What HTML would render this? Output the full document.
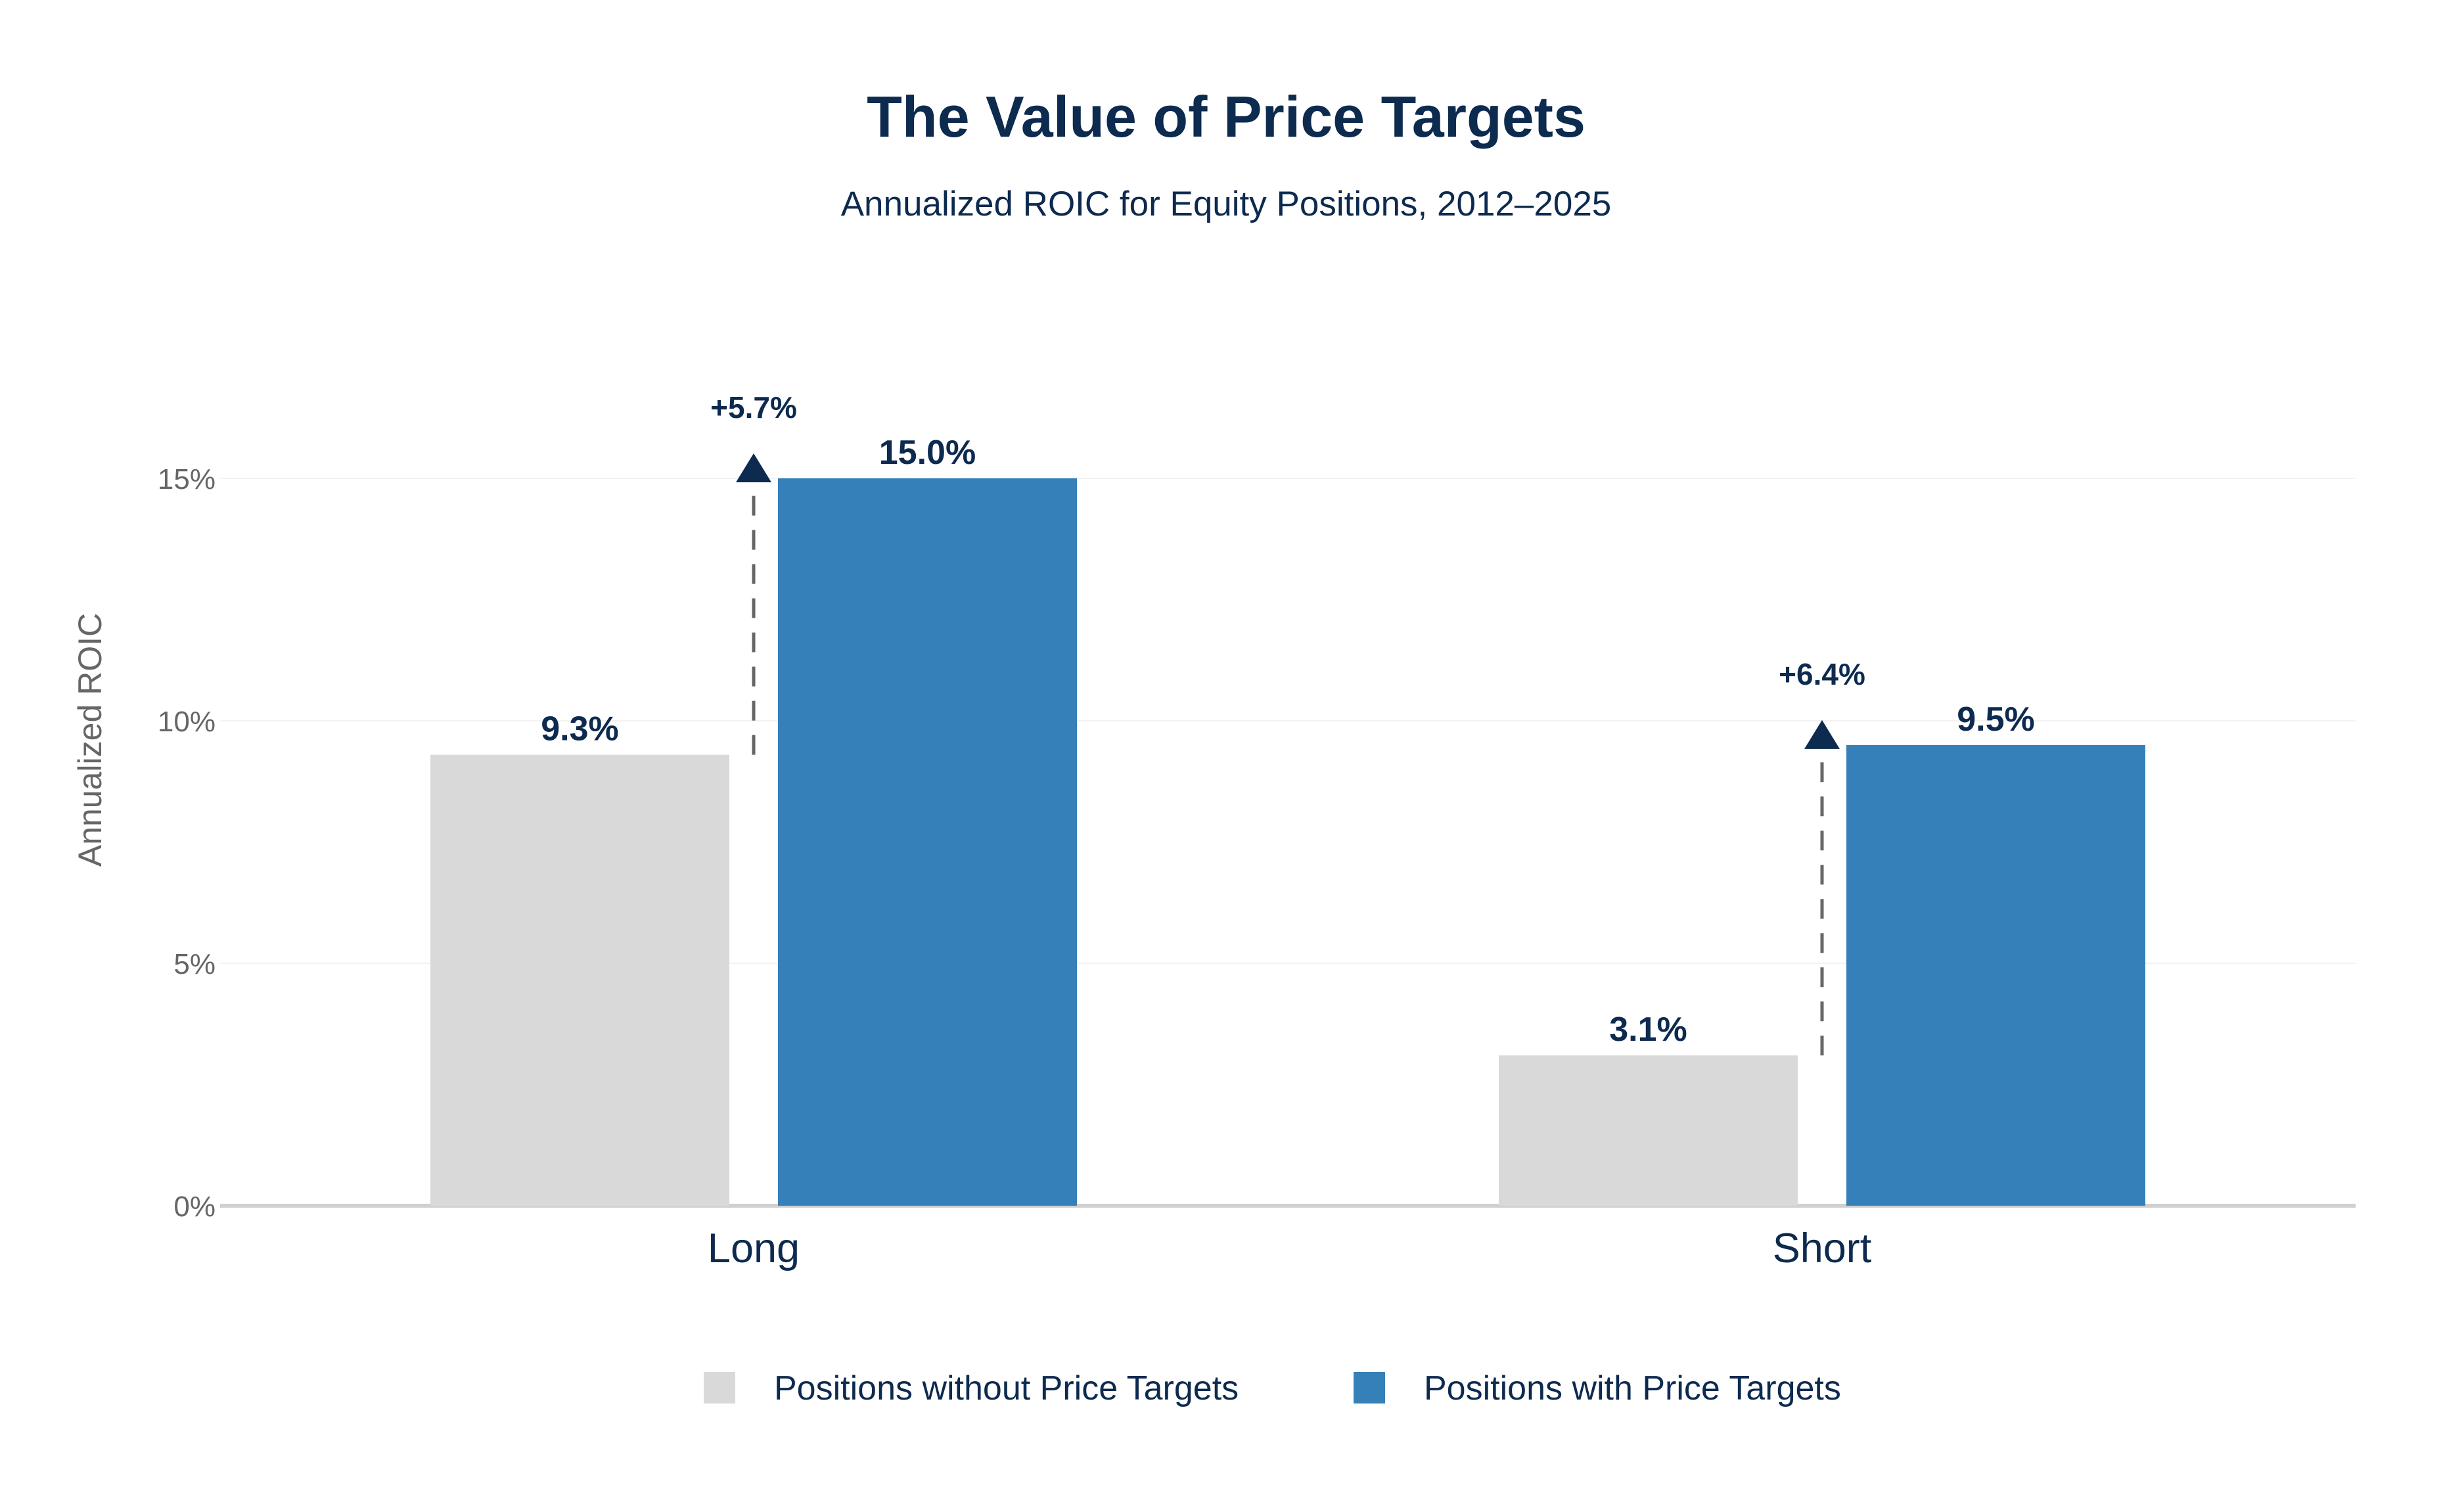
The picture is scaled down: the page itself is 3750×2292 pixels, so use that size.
<!DOCTYPE html>
<html><head><meta charset="utf-8">
<style>
html,body{margin:0;padding:0;background:#fff;}
svg{display:block;font-family:"Liberation Sans",sans-serif;}
</style></head>
<body>
<svg id="chart" width="3750" height="2292" viewBox="0 0 3750 2292" xmlns="http://www.w3.org/2000/svg">
<rect width="3750" height="2292" fill="#fff"/>
<text x="1866" y="208" text-anchor="middle" font-size="88" font-weight="bold" fill="#0d2a4f">The Value of Price Targets</text>
<text x="1866" y="328" text-anchor="middle" font-size="53" fill="#0d2a4f">Annualized ROIC for Equity Positions, 2012–2025</text>
<text transform="translate(154,1126) rotate(-90)" text-anchor="middle" font-size="50" fill="#666">Annualized ROIC</text>
<g id="grid"></g><g id="bars"></g><g id="annot"></g>
<g>
<rect x="1071" y="2088" width="48" height="48" fill="#d9d9d9"/>
<text x="1178" y="2130" font-size="52" fill="#0d2a4f">Positions without Price Targets</text>
<rect x="2060" y="2088" width="48" height="48" fill="#3580b9"/>
<text x="2167" y="2130" font-size="52" fill="#0d2a4f">Positions with Price Targets</text>
</g>
</svg>
<script>
const categories=["Long","Short"];
const withoutPT=[9.3,3.1];
const withPT=[15.0,9.5];
const deltaLabels=["+5.7%","+6.4%"];
const yTicks=[0,5,10,15];
const NS="http://www.w3.org/2000/svg";
const y0=1835, pxPer=(1835-728)/15;
const y=v=>y0-v*pxPer;
const plotL=335, plotR=3585;
const x=i=>1147+i*(2773-1147);
const bw=455, gap=74;
function mk(t,a,p){const e=document.createElementNS(NS,t);for(const k in a)e.setAttribute(k,a[k]);p.appendChild(e);return e;}
const grid=document.getElementById('grid'),bars=document.getElementById('bars'),an=document.getElementById('annot');
yTicks.forEach(t=>{
  const l=mk('line',{x1:plotL,x2:plotR,y1:y(t),y2:y(t),stroke:t===0?'#d0d0d0':'#f2f2f2','stroke-width':t===0?6:2},grid);
  
  
  const tx=mk('text',{x:328,y:y(t)+16,'text-anchor':'end','font-size':44,fill:'#666'},grid);
  tx.textContent=t+'%';
  
  
});
categories.forEach((c,i)=>{
  const cx=x(i);
  const gx=cx-gap/2-bw, bx=cx+gap/2;
  const g=mk('rect',{x:gx,y:y(withoutPT[i]),width:bw,height:y0-y(withoutPT[i]),fill:'#d9d9d9'},bars);
  
  
  const b=mk('rect',{x:bx,y:y(withPT[i]),width:bw,height:y0-y(withPT[i]),fill:'#3580b9'},bars);
  
  
  const l1=mk('text',{x:gx+bw/2,y:y(withoutPT[i])-22,'text-anchor':'middle','font-size':52,'font-weight':'bold',fill:'#0d2a4f'},bars);
  l1.textContent=withoutPT[i].toFixed(1)+'%';
  
  
  const l2=mk('text',{x:bx+bw/2,y:y(withPT[i])-22,'text-anchor':'middle','font-size':52,'font-weight':'bold',fill:'#0d2a4f'},bars);
  l2.textContent=withPT[i].toFixed(1)+'%';
  
  
  const cl=mk('text',{x:cx,y:1921,'text-anchor':'middle','font-size':63,fill:'#0d2a4f'},bars);
  cl.textContent=c;
  
  
  const d=mk('line',{x1:cx,x2:cx,y1:y(withoutPT[i]),y2:y(withPT[i])+10,stroke:'#666','stroke-width':5,'stroke-dasharray':'30,22'},an);
  
  
  const tp=y(withPT[i]);
  const tr=mk('polygon',{points:`${cx-27},${tp+6} ${cx+27},${tp+6} ${cx},${tp-38}`,fill:'#0d2a4f'},an);
  
  
  const dl=mk('text',{x:cx,y:tp-92,'text-anchor':'middle','font-size':46,'font-weight':'bold',fill:'#0d2a4f'},an);
  dl.textContent=deltaLabels[i];
  
  
});
</script>
</body></html>
